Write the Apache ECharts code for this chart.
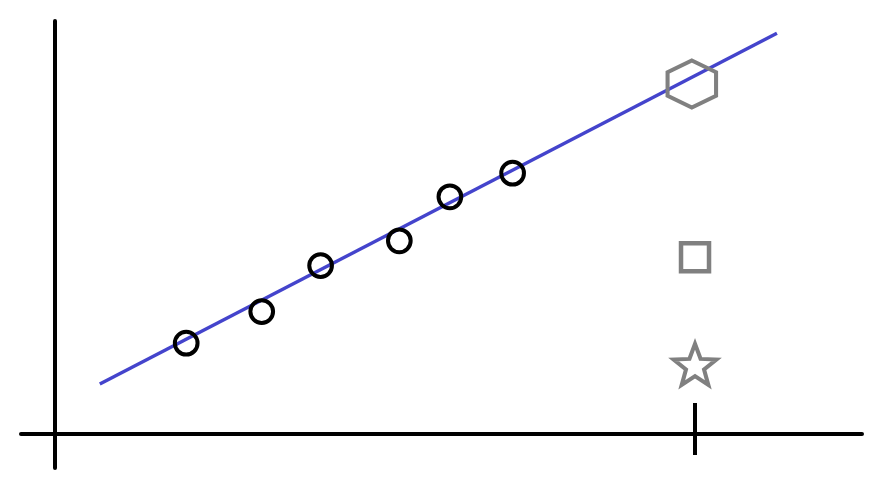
<!DOCTYPE html>
<html>
<head>
<meta charset="utf-8">
<script src="https://cdn.jsdelivr.net/npm/echarts@6/dist/echarts.min.js"></script>
<style>html,body{margin:0;padding:0;background:#fff}#c{width:878px;height:497px}</style>
</head>
<body>
<div id="c"></div>
<script>
// Observed points (black open circles)
const obsX = [2.05, 3.23, 4.15, 5.38, 6.17, 7.15];
const obsY = [2.27, 3.06, 4.21, 4.83, 5.93, 6.52];
// Fitted line endpoints
const fitX = [0.70, 11.28];
const fitY = [1.25, 10.02];
// Special markers at the ticked x value
const hexPoint = [9.95, 8.75];
const squarePoint = [10.0, 4.42];
const starPoint = [10.0, 1.74];
const tickValues = [10];

const chart = echarts.init(document.getElementById('c'), null, {renderer: 'canvas'});
const gray = '#808080';
const hexPath = 'path://M0,-1 L0.866,-0.5 L0.866,0.5 L0,1 L-0.866,0.5 L-0.866,-0.5 Z';
function starPathStr(){
  const pts = [];
  for (let i = 0; i < 10; i++) {
    const r = i % 2 === 0 ? 1 : 0.42;
    const a = -Math.PI/2 + i*Math.PI/5;
    pts.push((r*Math.cos(a)).toFixed(4) + ',' + (r*Math.sin(a)).toFixed(4));
  }
  return 'path://M' + pts.join(' L') + ' Z';
}
const option = {
  animation: false,
  backgroundColor: '#fff',
  grid: {left: 21, right: 16, top: 21, bottom: 29},
  xAxis: [{
    type: 'value', min: -0.53125, max: 12.609,
    splitLine: {show: false}, axisLabel: {show: false},
    axisLine: {show: true, onZero: true, lineStyle: {color: '#000', width: 4}},
    axisTick: {show: true, inside: true, length: 31, customValues: tickValues, lineStyle: {color: '#000', width: 4}}
  }, {
    type: 'value', min: -0.53125, max: 12.609, position: 'bottom', offset: -13,
    splitLine: {show: false}, axisLabel: {show: false},
    axisLine: {show: false, onZero: false},
    axisTick: {show: true, inside: true, length: 21, customValues: tickValues, lineStyle: {color: '#000', width: 4}}
  }],
  yAxis: {
    type: 'value', min: -0.85, max: 10.325,
    splitLine: {show: false}, axisLabel: {show: false}, axisTick: {show: false},
    axisLine: {show: true, onZero: true, lineStyle: {color: '#000', width: 4}}
  },
  series: [{
    type: 'line',
    data: fitX.map((x, i) => [x, fitY[i]]),
    symbol: 'none',
    lineStyle: {color: '#4444cc', width: 3.5},
    z: 3
  }, {
    type: 'scatter',
    data: obsX.map((x, i) => [x, obsY[i]]),
    symbol: 'circle', symbolSize: 22.7,
    itemStyle: {color: 'rgba(0,0,0,0)', borderColor: '#000', borderWidth: 4, opacity: 1},
    z: 4
  }, {
    type: 'scatter',
    data: [hexPoint],
    symbol: hexPath, symbolSize: [48.5, 47],
    itemStyle: {color: 'rgba(0,0,0,0)', borderColor: gray, borderWidth: 4, opacity: 1},
    z: 4
  }, {
    type: 'scatter',
    data: [squarePoint],
    symbol: 'rect', symbolSize: 28,
    itemStyle: {color: 'rgba(0,0,0,0)', borderColor: gray, borderWidth: 4.5, opacity: 1},
    z: 4
  }, {
    type: 'scatter',
    data: [starPoint],
    symbol: starPathStr(), symbolSize: [43, 41],
    itemStyle: {color: 'rgba(0,0,0,0)', borderColor: gray, borderWidth: 4, opacity: 1},
    z: 4
  }]
};
chart.setOption(option);
</script>
</body>
</html>
